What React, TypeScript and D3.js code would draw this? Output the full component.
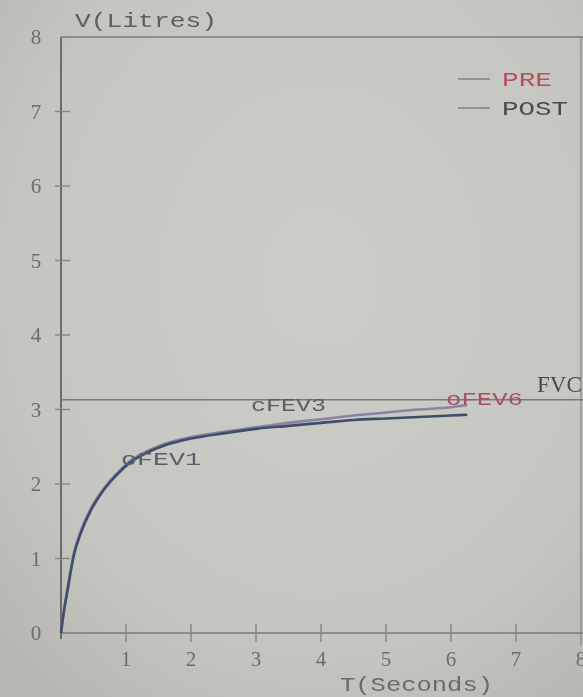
import React from "react";
import * as d3 from "d3";

const W = 583;
const H = 697;

const timeSec = [0, 0.04, 0.1, 0.2, 0.3, 0.45, 0.6, 0.75, 0.9, 1.05, 1.3, 1.6, 2, 2.5, 3, 3.5, 4, 4.5, 5, 5.5, 6, 6.25];
const preVolume = [0, 0.28, 0.6, 1.08, 1.36, 1.66, 1.87, 2.04, 2.18, 2.3, 2.43, 2.54, 2.63, 2.7, 2.76, 2.82, 2.87, 2.92, 2.96, 3.0, 3.03, 3.06];
const postVolume = [0, 0.26, 0.57, 1.05, 1.33, 1.63, 1.85, 2.02, 2.16, 2.28, 2.41, 2.52, 2.61, 2.68, 2.74, 2.78, 2.82, 2.86, 2.88, 2.9, 2.92, 2.93];

const yTicks = [0, 1, 2, 3, 4, 5, 6, 7, 8];
const xTicks = [1, 2, 3, 4, 5, 6, 7, 8];
const fvcValue = 3.13;

const markerLabels = ["oFEV1", "cFEV3", "oFEV6"];
const markerTimes = [1, 3, 6];
const markerVolumes = [2.35, 3.07, 3.15];

const seriesNames = ["PRE", "POST"];

// styles
const markerColors = ["#55606e", "#5c5c62", "#a4525e"];
const markerWidths = [80, 75, 77];
const seriesColors = ["#8c82a4", "#3e4e6a"];
const seriesTextColors = ["#b4505c", "#4a4a4e"];
const legendWidths = [50, 66];

export default function App() {
  const x = d3.scaleLinear().domain([0, 8]).range([61, 581]);
  const y = d3.scaleLinear().domain([0, 8]).range([633, 37]);
  const mono = "'Liberation Mono', 'DejaVu Sans Mono', monospace";
  const serif = "'Liberation Serif', 'DejaVu Serif', serif";
  const seriesValues = [preVolume, postVolume];

  const line = (vals: number[]) =>
    d3
      .line<number>()
      .x((_, i) => x(timeSec[i]))
      .y((d) => y(d))
      .curve(d3.curveMonotoneX)(vals) || "";

  return (
    <svg
      width={W}
      height={H}
      style={{ position: "fixed", top: 0, left: 0, display: "block" }}
    >
      <defs>
        <radialGradient id="bg" cx="55%" cy="40%" r="75%">
          <stop offset="0%" stopColor="#cdcdc8" />
          <stop offset="70%" stopColor="#c6c6c1" />
          <stop offset="100%" stopColor="#b8b8b3" />
        </radialGradient>
      </defs>
      <rect x={0} y={0} width={W} height={H} fill="url(#bg)" />

      {/* frame */}
      <line x1={x(0)} x2={W} y1={y(8)} y2={y(8)} stroke="#7a7a77" strokeWidth={1.6} />
      <line x1={x(8)} x2={x(8)} y1={y(8)} y2={y(0) + 12} stroke="#858581" strokeWidth={1.2} />
      <line x1={x(0)} x2={x(0)} y1={y(8)} y2={y(0) + 6} stroke="#6c6c6a" strokeWidth={2} />
      <line x1={x(0)} x2={W} y1={y(0)} y2={y(0)} stroke="#7a7a77" strokeWidth={1.6} />

      {/* y ticks */}
      {yTicks.map((t) => (
        <g key={"y" + t}>
          {t > 0 && t < 8 && (
            <line x1={x(0) - 6} x2={x(0) + 9} y1={y(t)} y2={y(t)} stroke="#858581" strokeWidth={1.4} />
          )}
          <text
            x={36}
            y={y(t)}
            dy="0.35em"
            textAnchor="middle"
            fontFamily={serif}
            fontSize={21}
            fill="#6c6c6a"
          >
            {t}
          </text>
        </g>
      ))}

      {/* x ticks */}
      {xTicks.map((t) => (
        <g key={"x" + t}>
          {t < 8 && (
            <line x1={x(t)} x2={x(t)} y1={y(0) - 9} y2={y(0) + 9} stroke="#858581" strokeWidth={1.4} />
          )}
          <text
            x={x(t)}
            y={y(0) + 33}
            textAnchor="middle"
            fontFamily={serif}
            fontSize={21}
            fill="#6c6c6a"
          >
            {t}
          </text>
        </g>
      ))}

      {/* axis labels */}
      <text
        x={75}
        y={27}
        fontFamily={mono}
        fontSize={20}
        textLength={142}
        lengthAdjust="spacingAndGlyphs"
        fill="#5e5e5c"
      >
        V(Litres)
      </text>
      <text
        x={340}
        y={691}
        fontFamily={mono}
        fontSize={20}
        textLength={153}
        lengthAdjust="spacingAndGlyphs"
        fill="#6a6a68"
      >
        T(Seconds)
      </text>

      {/* FVC line */}
      <line x1={x(0)} x2={W} y1={y(fvcValue)} y2={y(fvcValue)} stroke="#7a7a77" strokeWidth={1.5} />
      <text x={537} y={y(fvcValue) - 8} fontFamily={serif} fontSize={23} fill="#4a4a48">
        FVC
      </text>

      {/* curves */}
      {seriesNames.map((name, i) => (
        <path key={name} d={line(seriesValues[i])} fill="none" stroke={seriesColors[i]} strokeWidth={2.6} />
      ))}

      {/* markers */}
      {markerLabels.map((label, i) => (
        <text
          key={label}
          x={x(markerTimes[i]) - 5}
          y={y(markerVolumes[i])}
          dy="0.35em"
          fontFamily={mono}
          fontSize={19}
          textLength={markerWidths[i]}
          lengthAdjust="spacingAndGlyphs"
          fill={markerColors[i]}
        >
          {label}
        </text>
      ))}

      {/* legend */}
      {seriesNames.map((name, i) => (
        <g key={"lg" + name}>
          <line x1={458} x2={490} y1={79 + i * 29} y2={79 + i * 29} stroke="#8e8e8a" strokeWidth={1.8} />
          <text
            x={502}
            y={79 + i * 29}
            dy="0.35em"
            fontFamily={mono}
            fontSize={20}
            textLength={legendWidths[i]}
            lengthAdjust="spacingAndGlyphs"
            fill={seriesTextColors[i]}
          >
            {name}
          </text>
        </g>
      ))}
    </svg>
  );
}
